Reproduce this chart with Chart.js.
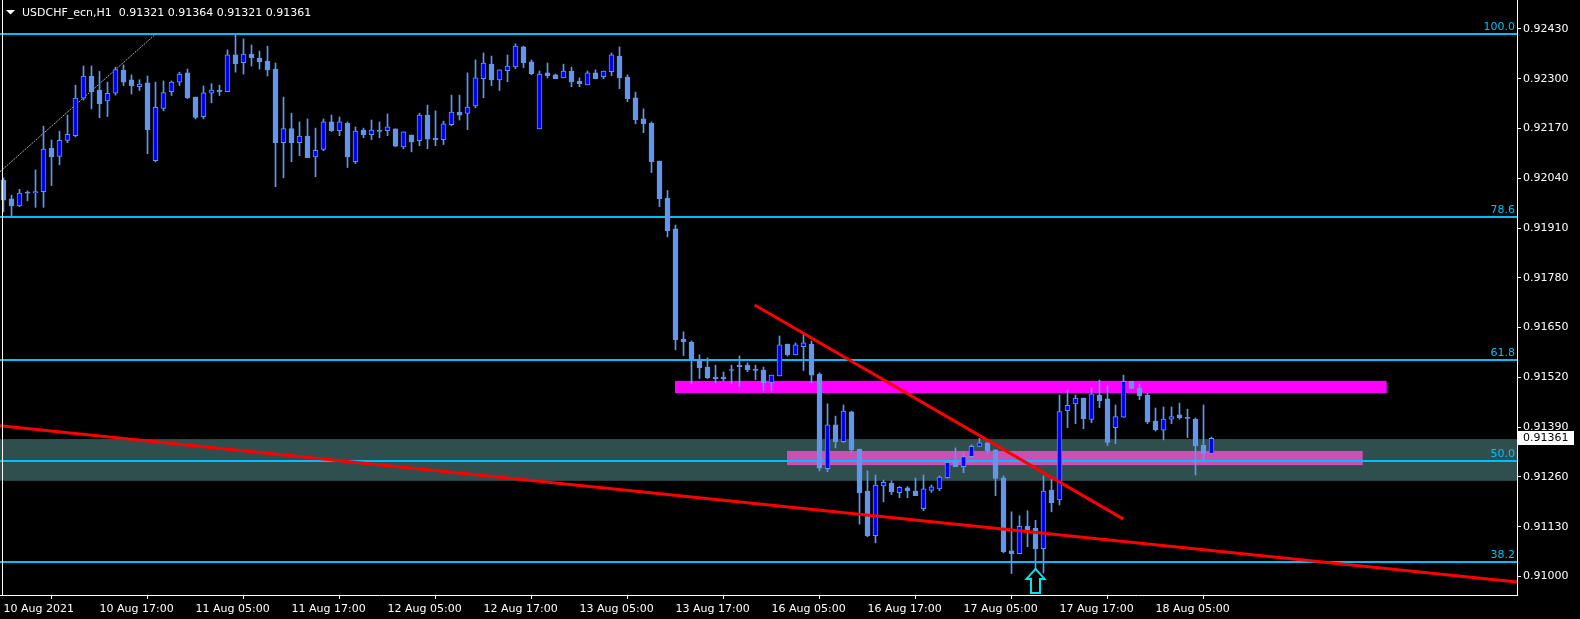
<!DOCTYPE html>
<html>
<head>
<meta charset="utf-8">
<script src="https://cdn.jsdelivr.net/npm/chart.js@4.4.1/dist/chart.umd.min.js"></script>
<style>
  html, body { margin: 0; padding: 0; background: #000; overflow: hidden; }
  #wrap { width: 1580px; height: 619px; }
</style>
</head>
<body>
<div id="wrap"><canvas id="chart" width="1580" height="619"></canvas></div>
<script>
// USDCHF_ecn H1, one bar per hour, bar 0 = 10 Aug 2021 05:00
const opens = [
  0.92035, 0.91986, 0.91968, 0.92001, 0.92002, 0.92005, 0.92119, 0.92097, 0.92139, 0.92151,
  0.92249, 0.92307, 0.92270, 0.92242, 0.92262, 0.92322, 0.92297, 0.92279, 0.92289, 0.92086,
  0.92222, 0.92266, 0.92291, 0.92315, 0.92252, 0.92201, 0.92262, 0.92270, 0.92266, 0.92362,
  0.92342, 0.92364, 0.92354, 0.92346, 0.92325, 0.92133, 0.92170, 0.92133, 0.92150, 0.92096,
  0.92115, 0.92187, 0.92164, 0.92184, 0.92083, 0.92166, 0.92154, 0.92166, 0.92164, 0.92169,
  0.92122, 0.92153, 0.92138, 0.92205, 0.92145, 0.92141, 0.92180, 0.92213, 0.92209, 0.92229,
  0.92300, 0.92338, 0.92297, 0.92321, 0.92331, 0.92383, 0.92344, 0.92169, 0.92315, 0.92310,
  0.92302, 0.92320, 0.92294, 0.92284, 0.92315, 0.92305, 0.92318, 0.92359, 0.92304, 0.92250,
  0.92195, 0.92184, 0.92085, 0.91988, 0.91908, 0.91620, 0.91612, 0.91565, 0.91547, 0.91521,
  0.91521, 0.91540, 0.91552, 0.91552, 0.91542, 0.91539, 0.91506, 0.91524, 0.91607, 0.91579,
  0.91600, 0.91607, 0.91529, 0.91282, 0.91396, 0.91352, 0.91430, 0.91333, 0.91223, 0.91107,
  0.91237, 0.91244, 0.91219, 0.91232, 0.91223, 0.91177, 0.91225, 0.91229, 0.91258, 0.91302,
  0.91287, 0.91313, 0.91340, 0.91349, 0.91331, 0.91258, 0.91067, 0.91060, 0.91131, 0.91126,
  0.91073, 0.91226, 0.91200, 0.91433, 0.91451, 0.91466, 0.91410, 0.91474, 0.91464, 0.91389,
  0.91416, 0.91510, 0.91492, 0.91474, 0.91406, 0.91382, 0.91411, 0.91422, 0.91413, 0.91411,
  0.91343, 0.91321
];
const highs = [
  0.92041, 0.91996, 0.92011, 0.92007, 0.92062, 0.92176, 0.92140, 0.92163, 0.92205, 0.92283,
  0.92333, 0.92333, 0.92319, 0.92291, 0.92330, 0.92336, 0.92310, 0.92297, 0.92307, 0.92291,
  0.92294, 0.92294, 0.92317, 0.92325, 0.92252, 0.92281, 0.92287, 0.92283, 0.92375, 0.92415,
  0.92404, 0.92388, 0.92372, 0.92385, 0.92341, 0.92252, 0.92210, 0.92187, 0.92195, 0.92171,
  0.92195, 0.92205, 0.92200, 0.92187, 0.92174, 0.92171, 0.92192, 0.92187, 0.92208, 0.92169,
  0.92161, 0.92153, 0.92210, 0.92231, 0.92216, 0.92189, 0.92257, 0.92257, 0.92315, 0.92349,
  0.92367, 0.92359, 0.92323, 0.92362, 0.92391, 0.92385, 0.92349, 0.92320, 0.92341, 0.92312,
  0.92338, 0.92330, 0.92302, 0.92320, 0.92323, 0.92320, 0.92367, 0.92383, 0.92310, 0.92265,
  0.92221, 0.92187, 0.92085, 0.92008, 0.91918, 0.91639, 0.91615, 0.91579, 0.91571, 0.91552,
  0.91534, 0.91552, 0.91576, 0.91558, 0.91552, 0.91547, 0.91526, 0.91628, 0.91607, 0.91610,
  0.91631, 0.91615, 0.91532, 0.91451, 0.91419, 0.91448, 0.91432, 0.91333, 0.91276, 0.91265,
  0.91252, 0.91250, 0.91235, 0.91235, 0.91257, 0.91265, 0.91239, 0.91263, 0.91300, 0.91336,
  0.91323, 0.91344, 0.91361, 0.91357, 0.91331, 0.91263, 0.91169, 0.91159, 0.91172, 0.91147,
  0.91263, 0.91254, 0.91474, 0.91487, 0.91474, 0.91466, 0.91493, 0.91513, 0.91498, 0.91448,
  0.91526, 0.91510, 0.91503, 0.91479, 0.91440, 0.91443, 0.91443, 0.91453, 0.91437, 0.91414,
  0.91448, 0.91364
];
const lows = [
  0.91952, 0.91942, 0.91966, 0.91981, 0.91964, 0.91964, 0.92021, 0.92075, 0.92133, 0.92148,
  0.92244, 0.92221, 0.92198, 0.92201, 0.92257, 0.92282, 0.92260, 0.92269, 0.92104, 0.92083,
  0.92216, 0.92256, 0.92282, 0.92248, 0.92195, 0.92195, 0.92237, 0.92256, 0.92266, 0.92317,
  0.92312, 0.92333, 0.92325, 0.92307, 0.92018, 0.92041, 0.92083, 0.92099, 0.92094, 0.92044,
  0.92112, 0.92162, 0.92151, 0.92068, 0.92078, 0.92146, 0.92141, 0.92146, 0.92151, 0.92122,
  0.92117, 0.92109, 0.92125, 0.92117, 0.92125, 0.92128, 0.92177, 0.92192, 0.92167, 0.92224,
  0.92250, 0.92282, 0.92269, 0.92292, 0.92326, 0.92329, 0.92310, 0.92169, 0.92302, 0.92300,
  0.92302, 0.92279, 0.92279, 0.92284, 0.92300, 0.92300, 0.92308, 0.92274, 0.92240, 0.92182,
  0.92159, 0.92055, 0.91966, 0.91887, 0.91592, 0.91577, 0.91504, 0.91517, 0.91517, 0.91506,
  0.91511, 0.91504, 0.91496, 0.91535, 0.91514, 0.91485, 0.91485, 0.91524, 0.91576, 0.91579,
  0.91538, 0.91506, 0.91276, 0.91274, 0.91336, 0.91350, 0.91324, 0.91137, 0.91104, 0.91088,
  0.91195, 0.91214, 0.91206, 0.91206, 0.91211, 0.91172, 0.91220, 0.91224, 0.91257, 0.91287,
  0.91271, 0.91310, 0.91340, 0.91321, 0.91211, 0.91062, 0.91008, 0.91060, 0.91078, 0.91007,
  0.91010, 0.91169, 0.91187, 0.91389, 0.91399, 0.91386, 0.91402, 0.91441, 0.91342, 0.91347,
  0.91416, 0.91491, 0.91462, 0.91399, 0.91380, 0.91357, 0.91399, 0.91411, 0.91363, 0.91265,
  0.91305, 0.91321
];
const closes = [
  0.91983, 0.91968, 0.92001, 0.92001, 0.92005, 0.92116, 0.92096, 0.92139, 0.92155, 0.92249,
  0.92307, 0.92266, 0.92235, 0.92262, 0.92324, 0.92291, 0.92282, 0.92286, 0.92167, 0.92225,
  0.92264, 0.92291, 0.92312, 0.92250, 0.92199, 0.92263, 0.92270, 0.92266, 0.92362, 0.92339,
  0.92364, 0.92355, 0.92344, 0.92323, 0.92133, 0.92170, 0.92133, 0.92150, 0.92094, 0.92113,
  0.92187, 0.92164, 0.92187, 0.92096, 0.92163, 0.92154, 0.92166, 0.92162, 0.92174, 0.92124,
  0.92161, 0.92135, 0.92205, 0.92142, 0.92141, 0.92182, 0.92213, 0.92205, 0.92226, 0.92302,
  0.92341, 0.92297, 0.92323, 0.92333, 0.92385, 0.92342, 0.92313, 0.92312, 0.92308, 0.92300,
  0.92320, 0.92292, 0.92287, 0.92315, 0.92300, 0.92320, 0.92362, 0.92302, 0.92248, 0.92193,
  0.92182, 0.92083, 0.91987, 0.91903, 0.91618, 0.91613, 0.91566, 0.91545, 0.91519, 0.91517,
  0.91517, 0.91538, 0.91548, 0.91540, 0.91538, 0.91506, 0.91526, 0.91605, 0.91579, 0.91605,
  0.91610, 0.91526, 0.91283, 0.91396, 0.91352, 0.91432, 0.91331, 0.91219, 0.91107, 0.91239,
  0.91246, 0.91222, 0.91233, 0.91224, 0.91211, 0.91229, 0.91234, 0.91260, 0.91298, 0.91287,
  0.91313, 0.91340, 0.91349, 0.91329, 0.91256, 0.91065, 0.91060, 0.91131, 0.91122, 0.91073,
  0.91223, 0.91193, 0.91431, 0.91447, 0.91466, 0.91412, 0.91477, 0.91459, 0.91350, 0.91418,
  0.91510, 0.91491, 0.91472, 0.91404, 0.91383, 0.91411, 0.91418, 0.91415, 0.91413, 0.91341,
  0.91321, 0.91361
];

// axis ticks
const xTickBars = [0, 12, 24, 36, 48, 60, 72, 84, 96, 108, 120, 132, 144];
const xTickLabels = ['10 Aug 2021', '10 Aug 17:00', '11 Aug 05:00', '11 Aug 17:00', '12 Aug 05:00',
  '12 Aug 17:00', '13 Aug 05:00', '13 Aug 17:00', '16 Aug 05:00', '16 Aug 17:00',
  '17 Aug 05:00', '17 Aug 17:00', '18 Aug 05:00'];
const yTickValues = [0.92430, 0.92300, 0.92170, 0.92040, 0.91910, 0.91780, 0.91650,
  0.91520, 0.91390, 0.91260, 0.91130, 0.91000];
const yMin = 0.909519, yMax = 0.925054;
const xMin = -0.4375, xMax = 189.1875;

// fibonacci retracement
const fibLevels = [100.0, 78.6, 61.8, 50.0, 38.2];
const fibPrice0 = 0.901871, fibPrice100 = 0.924166;

// chart objects (bar index, price)
const zonePrices = [0.91359, 0.91250];
const pinkBox = { bars: [97.94, 169.9], prices: [0.91328, 0.91291] };
const magentaBox = { bars: [83.94, 172.9], prices: [0.91511, 0.91479] };
const upperTrend = { bars: [93.9, 140.0], prices: [0.91709, 0.91150] };
const lowerTrend = { bars: [xMin, xMax], prices: [0.91394, 0.90986] };
const fibTrend = { bars: [xMin, 18.94], prices: [0.92057, 0.92415] };
const arrowMark = { bar: 129, price: 0.91020 };

const BEAR = '#6495ED', BULL = '#0000FF';
const FONT = '11px "DejaVu Sans", sans-serif';

const n = closes.length;
const bodies = [], wicks = [], bodyColors = [];
for (let i = 0; i < n; i++) {
  bodies.push({ x: i, y: [opens[i], closes[i]] });
  wicks.push({ x: i, y: [lows[i], highs[i]] });
  bodyColors.push(closes[i] > opens[i] ? BULL : BEAR);
}

function linePoints(obj) {
  return obj.bars.map((b, k) => ({ x: b, y: obj.prices[k] }));
}

// no label overhang padding, so the plot fills the window edge to edge
function noPad(s) {
  s.paddingTop = 0; s.paddingBottom = 0; s.paddingLeft = 0; s.paddingRight = 0;
}

// background objects: zone, boxes, fibo lines
const backObjects = {
  id: 'backObjects',
  beforeDraw(chart) {
    const ctx = chart.ctx;
    ctx.save();
    ctx.fillStyle = '#000';
    ctx.fillRect(0, 0, chart.width, chart.height);
    ctx.restore();
  },
  beforeDatasetsDraw(chart) {
    const { ctx, chartArea: a, scales: { x, y } } = chart;
    ctx.save();
    ctx.beginPath();
    ctx.rect(a.left, a.top, a.right - a.left, a.bottom - a.top);
    ctx.clip();

    let t = y.getPixelForValue(zonePrices[0]), b = y.getPixelForValue(zonePrices[1]);
    ctx.fillStyle = '#2F4F4F';
    ctx.fillRect(a.left, t, a.right - a.left, b - t);

    const box = (o, color) => {
      const x1 = x.getPixelForValue(o.bars[0]), x2 = x.getPixelForValue(o.bars[1]);
      const y1 = y.getPixelForValue(o.prices[0]), y2 = y.getPixelForValue(o.prices[1]);
      ctx.fillStyle = color;
      ctx.fillRect(x1, y1, x2 - x1, y2 - y1);
    };
    box(pinkBox, '#CC4FB4');
    box(magentaBox, '#FF00FF');

    ctx.font = FONT;
    ctx.textAlign = 'right';
    ctx.textBaseline = 'bottom';
    fibLevels.forEach(lv => {
      const py = Math.round(y.getPixelForValue(fibPrice0 + (fibPrice100 - fibPrice0) * lv / 100));
      ctx.fillStyle = '#00BFFF';
      ctx.fillRect(a.left, py - 1, a.right - a.left, 2);
      ctx.fillText(lv.toFixed(1), a.right - 2, py - 1);
    });

    // dotted fibo trendline
    ctx.strokeStyle = '#A8A8A8';
    ctx.lineWidth = 1;
    ctx.setLineDash([2, 1]);
    ctx.beginPath();
    ctx.moveTo(x.getPixelForValue(fibTrend.bars[0]), y.getPixelForValue(fibTrend.prices[0]));
    ctx.lineTo(x.getPixelForValue(fibTrend.bars[1]), y.getPixelForValue(fibTrend.prices[1]));
    ctx.stroke();
    ctx.restore();
  },
  afterDraw(chart) {
    const { ctx, chartArea: a, scales: { x, y } } = chart;
    ctx.save();
    // left frame line
    ctx.fillStyle = '#fff';
    ctx.fillRect(2, 0, 1, a.bottom);

    // up arrow
    const ax = x.getPixelForValue(arrowMark.bar), ay = y.getPixelForValue(arrowMark.price);
    ctx.beginPath();
    ctx.moveTo(ax, ay);
    ctx.lineTo(ax + 9, ay + 10);
    ctx.lineTo(ax + 4.5, ay + 10);
    ctx.lineTo(ax + 4.5, ay + 24);
    ctx.lineTo(ax - 4.5, ay + 24);
    ctx.lineTo(ax - 4.5, ay + 10);
    ctx.lineTo(ax - 9, ay + 10);
    ctx.closePath();
    ctx.fillStyle = '#000';
    ctx.fill();
    ctx.strokeStyle = '#00E5EE';
    ctx.lineWidth = 2;
    ctx.stroke();

    // last price tag
    const last = closes[n - 1];
    const py = Math.round(y.getPixelForValue(last));
    ctx.fillStyle = '#fff';
    ctx.fillRect(a.right + 1, py - 7, 56, 14);
    ctx.fillStyle = '#000';
    ctx.font = FONT;
    ctx.textAlign = 'left';
    ctx.textBaseline = 'middle';
    ctx.fillText(last.toFixed(5), a.right + 6, py);

    // title
    ctx.fillStyle = '#fff';
    ctx.beginPath();
    ctx.moveTo(6, 10);
    ctx.lineTo(15, 10);
    ctx.lineTo(10.5, 14.5);
    ctx.closePath();
    ctx.fill();
    const title = 'USDCHF_ecn,H1  ' + [opens[n - 1], highs[n - 1], lows[n - 1], closes[n - 1]]
      .map(v => v.toFixed(5)).join(' ');
    ctx.fillText(title, 22, 13);
    ctx.restore();
  }
};

new Chart(document.getElementById('chart'), {
  type: 'bar',
  data: {
    datasets: [
      {
        type: 'line', data: linePoints(upperTrend), borderColor: '#FF0000', borderWidth: 3,
        pointRadius: 0, order: 0
      },
      {
        type: 'line', data: linePoints(lowerTrend), borderColor: '#FF0000', borderWidth: 3,
        pointRadius: 0, order: 0
      },
      {
        data: bodies, backgroundColor: bodyColors, borderColor: BEAR, borderWidth: 1,
        borderSkipped: false, barThickness: 5, minBarLength: 1, grouped: false, order: 1
      },
      {
        data: wicks, backgroundColor: BEAR, borderWidth: 0,
        barThickness: 1, grouped: false, order: 2
      }
    ]
  },
  options: {
    responsive: false,
    animation: false,
    devicePixelRatio: 1,
    layout: { padding: 0 },
    plugins: { legend: { display: false }, tooltip: { enabled: false } },
    scales: {
      x: {
        type: 'linear', min: xMin, max: xMax, offset: false,
        afterBuildTicks: s => { s.ticks = xTickBars.map(v => ({ value: v })); },
        afterFit: s => { s.height = 24; noPad(s); },
        grid: { drawOnChartArea: false, color: '#fff', tickLength: 4 },
        border: { color: '#fff', width: 1 },
        ticks: {
          color: '#fff', font: { family: 'DejaVu Sans', size: 11 }, padding: 4,
          align: 'start', autoSkip: false, maxRotation: 0,
          callback: (v, i) => xTickLabels[i]
        }
      },
      y: {
        type: 'linear', position: 'right', min: yMin, max: yMax,
        afterBuildTicks: s => { s.ticks = yTickValues.map(v => ({ value: v })); },
        afterFit: s => { s.width = 63; noPad(s); },
        grid: { drawOnChartArea: false, color: '#fff', tickLength: 4 },
        border: { color: '#fff', width: 1 },
        ticks: {
          color: '#fff', font: { family: 'DejaVu Sans', size: 11 }, padding: 2,
          callback: v => v.toFixed(5)
        }
      }
    }
  },
  plugins: [backObjects]
});
</script>
</body>
</html>
